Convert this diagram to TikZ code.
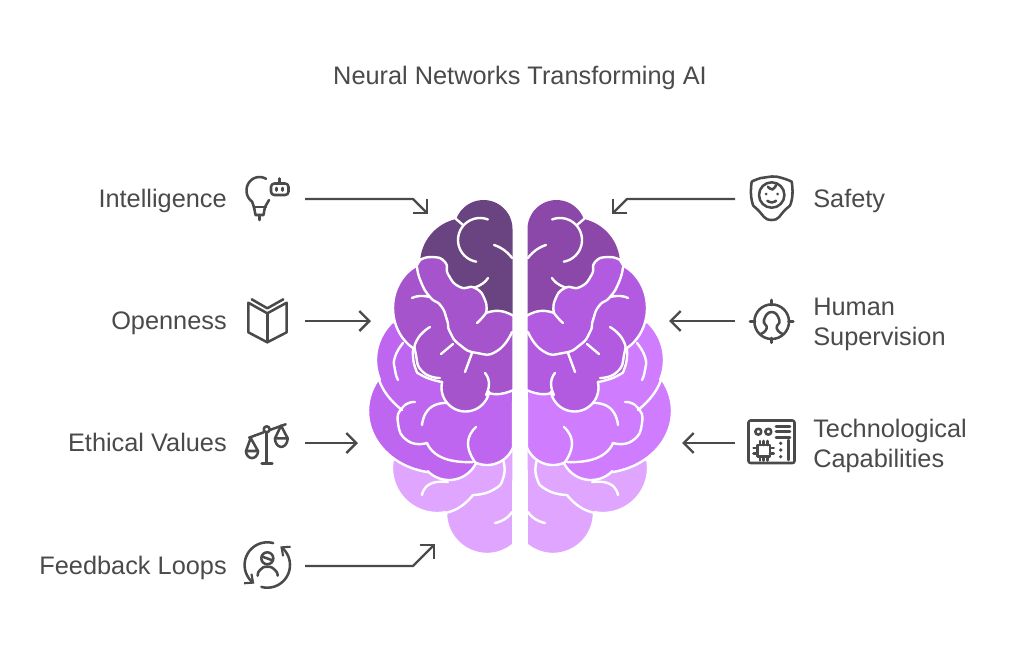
\documentclass[tikz,border=0pt]{standalone}
\usepackage{fontspec}
\setmainfont{Liberation Sans}
\usetikzlibrary{arrows.meta}
\definecolor{ink}{HTML}{4A4A4A}
\definecolor{la}{HTML}{6A4480}
\definecolor{lb}{HTML}{A554CC}
\definecolor{lc}{HTML}{BF66F0}
\definecolor{ra}{HTML}{8B48A8}
\definecolor{rb}{HTML}{B25BE0}
\definecolor{rc}{HTML}{D07CFF}
\definecolor{pale}{HTML}{E0A6FF}
\tikzset{
  every plot/.style={tension=1},
  lab/.style={text=ink,inner sep=0pt,font=\fontsize{19}{22.5}\selectfont,align=left},
  ic/.style={draw=ink,line width=1.9pt,line cap=round,line join=round},
  conn/.style={draw=ink,line width=1.8pt,line join=round,-{Straight Barb[length=7.5pt,width=15pt,line width=1.8pt]}},
  vein/.style={draw=white,line width=1.8pt,line cap=round,line join=round},
  lobe/.style={draw=white,line width=1.8pt,line join=round},
}
% elliptical arc: centre x, centre y, radius x, radius y, from angle, to angle
\newcommand{\ea}[6]{plot[domain=#5:#6,samples=28] ({#1+#3*cos(\x)},{#2+#4*sin(\x)})}
\newcommand{\lea}[6]{-- plot[domain=#5:#6,samples=28] ({#1+#3*cos(\x)},{#2+#4*sin(\x)})}
\newcommand{\brainhalf}[4]{%
  \path[lobe,fill=#4] \ea{437}{468}{45}{45}{190}{80} \lea{487}{513}{41}{41}{180}{50} -- (513.5,440) -- (430,440) -- cycle;
  \draw[vein] plot[smooth] coordinates {(503,460)(503.5,477)(493,490)(473,495)};
  \draw[vein] plot[smooth] coordinates {(473,495)(460,507)(445,513)};
  \draw[vein] plot[smooth] coordinates {(495,523)(505,519)(512,512)};
  \draw[vein] plot[smooth] coordinates {(448,482)(430,484)(422,495)};
  \path[lobe,fill=#3] \ea{428}{360}{52}{52}{227}{158} \lea{440}{411}{72}{62}{210}{100} \lea{449}{450}{30}{30}{135}{26} \lea{487}{437}{28}{28}{115}{22} -- (513.5,340) -- (440,330) -- cycle;
  \draw[vein] plot[smooth] coordinates {(403,343)(395,357)(395,370)(398,380)};
  \draw[vein] plot[smooth] coordinates {(377,372)(385,392)(402,410)};
  \draw[vein] plot[smooth] coordinates {(415,402)(403,407)(398,423)(408,441)(427,443)};
  \draw[vein] plot[smooth] coordinates {(427,443)(443,458)(473,462)};
  \draw[vein] plot[smooth] coordinates {(475,462)(468,443)(476,427)};
  \draw[vein] plot[smooth] coordinates {(448,403)(430,408)(422,425)};
  \path[fill=#1] \ea{483.5}{229}{29}{29}{0}{-158} \lea{466}{264}{46}{46}{258}{188} -- (430,300) -- (512.5,330) -- cycle;
  \draw[vein] \ea{480}{240}{22}{22}{-69}{-260};
  \draw[vein] (456,219) -- (463,225);
  \draw[vein] plot[smooth] coordinates {(494,245)(504,250)(512,258)};
  \draw[vein] plot[smooth] coordinates {(488,278)(482,284)(473,288)};
  \path[lobe,fill=#2] \ea{435}{308}{42}{47}{244}{120} -- plot[smooth] coordinates {(413,350)(415,367)(423,376)(442,382)} \lea{465.5}{387.5}{24}{24}{193}{10} -- plot[smooth] coordinates {(489,393)(500,394)(513.5,390)} -- (513.5,316) -- plot[smooth] coordinates {(513.5,316)(500,311)(486,313)} -- plot[smooth] coordinates {(486,313)(485,300)(475,288)(460,287)(448.5,275)(445,262)(432,257)(420,260)} -- cycle;
  \draw[vein] plot[smooth] coordinates {(486,313)(482,318)(477,323)};
  \draw[vein] plot[smooth] coordinates {(417,267)(421,282)(430,297)(441,306)(447,320)(450,332)(460,345)(477,353)(497,351)(512,332)};
  \draw[vein] plot[smooth] coordinates {(412,298)(420,296)(430,297)};
  \draw[vein] plot[smooth] coordinates {(430,327)(417,340)(416,355)(423,372)(440,378)};
  \draw[vein] (453,344) -- (441,354);
  \draw[vein] (472,353) -- (465,372);
  \draw[vein] plot[smooth] coordinates {(485,373)(489,383)(486,395)};
}
\begin{document}
\begin{tikzpicture}[x=0.75pt,y=-0.75pt]
\useasboundingbox (0,0) rectangle (1024,650);
\fill[white] (0,0) rectangle (1024,650);

\brainhalf{la}{lb}{lc}{pale}
\begin{scope}[shift={(1040,0)},xscale=-1]
\brainhalf{ra}{rb}{rc}{pale}
\end{scope}

\node[lab,anchor=base] (title) at (520,84) {Neural Networks Transforming AI};
\node[lab,anchor=base east] (lintel) at (227,207) {Intelligence};
\node[lab,anchor=base east] (lopen) at (227,329) {Openness};
\node[lab,anchor=base east] (lethic) at (227,451) {Ethical Values};
\node[lab,anchor=base east] (lfeed) at (227,574) {Feedback Loops};
\node[lab,anchor=base west] (lsafe) at (813,207) {Safety};
\node[lab,anchor=west] (lhuman) at (813,324) {Human\\Supervision};
\node[lab,anchor=west] (ltech) at (813,446) {Technological\\Capabilities};

% connectors
\coordinate (a1s) at (305,199); \coordinate (a1m) at (413,199); \coordinate (a1e) at (428,214);
\coordinate (a2s) at (305,321); \coordinate (a2e) at (371,321);
\coordinate (a3s) at (305,443); \coordinate (a3e) at (358,443);
\coordinate (a4s) at (305,566); \coordinate (a4m) at (413,566); \coordinate (a4e) at (435,544);
\coordinate (a5s) at (735,199); \coordinate (a5m) at (627,199); \coordinate (a5e) at (612,214);
\coordinate (a6s) at (735,321); \coordinate (a6e) at (669,321);
\coordinate (a7s) at (735,443); \coordinate (a7e) at (682,443);
\draw[conn] (a1s) -- (a1m) -- (a1e);
\draw[conn] (a2s) -- (a2e);
\draw[conn] (a3s) -- (a3e);
\draw[conn] (a4s) -- (a4m) -- (a4e);
\draw[conn] (a5s) -- (a5m) -- (a5e);
\draw[conn] (a6s) -- (a6e);
\draw[conn] (a7s) -- (a7e);

% bulb and robot
\draw[ic] \ea{259.5}{190.5}{13}{13.5}{-60}{-235};
\draw[ic] (253.5,207) -- (266,207);
\draw[ic] (252,201.5) -- (254,207) -- (255.5,215) -- (263.5,215) -- (265,207) -- (269,200);
\draw[ic] (259.5,215) -- (259.5,220);
\draw[ic,rounded corners=2.5pt] (271,183.5) rectangle (288.5,195);
\draw[ic] (279.5,178.5) -- (279.5,183.5);
\draw[ic] (276.7,188) -- (276.7,190.5) (282.7,188) -- (282.7,190.5);
% book
\draw[ic] (248.3,302.7) -- (267.3,313.3) -- (286.7,302.7) -- (286.7,332.3) -- (267.3,342.3) -- (248.3,332.3) -- cycle;
\draw[ic] (267.3,313.3) -- (267.3,342.3);
\draw[ic] (251.7,299.3) -- (267.3,308.3) -- (283.3,299.3);
% scales
\draw[ic] (249,437.7) -- (263.7,432.3) (269.7,430) -- (285.7,424.3);
\draw[ic] (266.7,429.3) circle[radius=3];
\draw[ic] (266.7,432.3) -- (266.7,463.3) (261.7,463.3) -- (272.3,463.3);
\draw[ic] (250.7,438) -- (246,451) -- (258,451) -- cycle;
\draw[ic] \ea{252}{451}{6}{7}{0}{180};
\draw[ic] (281,425.7) -- (275,438.3) -- (287.7,438.3) -- cycle;
\draw[ic] \ea{281.3}{438.3}{6.3}{8.5}{0}{180};
% feedback
\draw[ic] (267.3,558.3) circle[radius=6];
\draw[ic] (262,556.5) -- (273,560.5);
\draw[ic] plot[smooth] coordinates {(257.7,575.7)(260,570)(267.3,566.7)(275,570)(277.7,575.7)};
\draw[ic,-{Straight Barb[length=5pt,width=9pt,line width=1.6pt]}] \ea{267.3}{565}{22.7}{22.7}{-75}{-235};
\draw[ic,-{Straight Barb[length=5pt,width=9pt,line width=1.6pt]}] \ea{267.3}{565}{22.7}{22.7}{105}{-55};
% shield
\draw[ic] plot[smooth] coordinates {(751.7,181.7)(761,178)(771.7,176.5)(782,178)(791.7,181.7)} -- plot[smooth] coordinates {(791.7,181.7)(791.7,200)(785,210)(771.7,220)(758,210)(751.7,200)(751.7,181.7)};
\draw[ic] (771.7,195) circle[radius=12.7];
\draw[ic] plot[smooth] coordinates {(767.3,200.7)(771.7,202.5)(776,200.7)};
\fill[ink] (766,194) circle[radius=1.5] (777.5,194) circle[radius=1.5];
\draw[ic] plot[smooth] coordinates {(768,186.7)(772.5,189.5)(776,185)};
% target person
\draw[ic] (771.7,321.7) circle[radius=17.3];
\draw[ic] (771.7,300) -- (771.7,305) (771.7,338) -- (771.7,342.7) (750,321.7) -- (755,321.7) (788.5,321.7) -- (793.3,321.7);
\draw[ic] plot[smooth] coordinates {(760.7,334)(766.7,328.3)(764,320)(771.7,312)(779.3,320)(776.7,328.3)(782.7,334)};
% circuit board
\draw[ic,rounded corners=1.5pt] (748.5,420.5) rectangle (794.5,463);
\draw[ic] (758.3,431.7) circle[radius=3] (768.3,431.7) circle[radius=3];
\draw[ic] (776,426.7) -- (790,426.7) (776,431.7) -- (790,431.7) (776,437.3) -- (790,437.3);
\draw[ic] (757.3,445) rectangle (770,456.7);
\draw[ic] (760,441) -- (760,445) (763.7,441) -- (763.7,445) (767.3,441) -- (767.3,445)
 (760,456.7) -- (760,460.5) (763.7,456.7) -- (763.7,460.5) (767.3,456.7) -- (767.3,460.5)
 (753.5,448) -- (757.3,448) (753.5,453.5) -- (757.3,453.5) (770,448) -- (773.8,448) (770,453.5) -- (773.8,453.5);
\fill[ink] (780.7,443.3) circle[radius=1.8] (780.7,450) circle[radius=1.8] (780.7,456.7) circle[radius=1.8];
\draw[ic] (788.3,440) -- (788.3,460);
\end{tikzpicture}
\end{document}
